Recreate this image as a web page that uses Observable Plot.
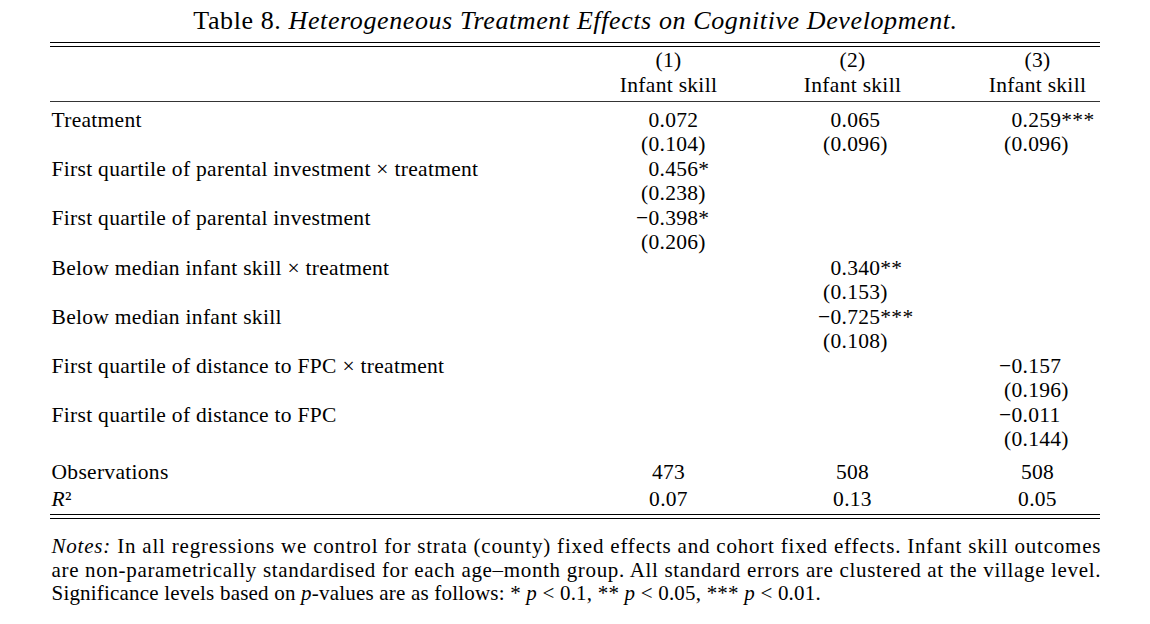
<!DOCTYPE html>
<html><head><meta charset="utf-8">
<script src="https://cdn.jsdelivr.net/npm/d3@7"></script>
<script src="https://cdn.jsdelivr.net/npm/@observablehq/plot@0.6"></script>
<style>body{margin:0;background:#fff}</style>
</head><body><div id="c"></div>
<script>
const rowLabels = ["Treatment","First quartile of parental investment × treatment","First quartile of parental investment","Below median infant skill × treatment","Below median infant skill","First quartile of distance to FPC × treatment","First quartile of distance to FPC"];
const coefs = [["0.072","0.065","0.259***"],["0.456*","",""],["−0.398*","",""],["","0.340**",""],["","−0.725***",""],["","","−0.157"],["","","−0.011"]];
const ses = [["(0.104)","(0.096)","(0.096)"],["(0.238)","",""],["(0.206)","",""],["","(0.153)",""],["","(0.108)",""],["","","(0.196)"],["","","(0.144)"]];
const colNums = ["(1)","(2)","(3)"];
const colNames = ["Infant skill","Infant skill","Infant skill"];
const observations = ["473","508","508"];
const r2 = ["0.07","0.13","0.05"];
const title = "Table 8. |Heterogeneous Treatment Effects on Cognitive Development.";
const notes = ["|Notes:| In all regressions we control for strata (county) fixed effects and cohort fixed effects. Infant skill outcomes",
"are non-parametrically standardised for each age–month group. All standard errors are clustered at the village level.",
"Significance levels based on |p|-values are as follows: * |p| < 0.1, ** |p| < 0.05, *** |p| < 0.01."];

const colCenter = [668, 852, 1037];
const colDec = [659, 841, 1022];
const rowY = [120,169,218,268,317,366,415];
const F = "Liberation Serif, Times New Roman, serif";

const cells = [];
coefs.forEach((r,i)=>r.forEach((v,j)=>{ if(v){ const k=v.indexOf("."); cells.push({x:colDec[j], y:rowY[i], a:v.slice(0,k), b:v.slice(k)}); }}));
ses.forEach((r,i)=>r.forEach((v,j)=>{ if(v){ const k=v.indexOf("."); cells.push({x:colDec[j], y:rowY[i]+24, a:v.slice(0,k), b:v.slice(k)}); }}));
const heads = [];
colNums.forEach((v,j)=>heads.push({x:colCenter[j],y:60,t:v}));
colNames.forEach((v,j)=>heads.push({x:colCenter[j],y:85,t:v}));
observations.forEach((v,j)=>heads.push({x:colCenter[j],y:472,t:v}));
r2.forEach((v,j)=>heads.push({x:colCenter[j],y:499,t:v}));
const labels = rowLabels.map((t,i)=>({x:51,y:rowY[i],t}));
labels.push({x:51,y:472,t:"Observations"},{x:51,y:499,t:"|R|²"});
const rules = [{y:42,w:1.2},{y:46,w:1.2},{y:101,w:0.8},{y:514,w:1.2},{y:518,w:1.2}];
const noteData = notes.map((t,i)=>({x:51,y:546+i*23.5,t,i}));

const plot = Plot.plot({
  width:1150, height:624, margin:0,
  x:{domain:[0,1150], axis:null}, y:{domain:[0,624], range:[0,624], axis:null},
  style:{fontFamily:F, background:"#fff"},
  marks:[
    Plot.ruleY(rules,{y:"y",x1:50,x2:1100,strokeWidth:"w",stroke:"#000"}),
    Plot.text([{t:title}],{x:575,y:20,text:"t",fontSize:26,fill:"#000"}),
    Plot.text(heads,{x:"x",y:"y",text:"t",fontSize:21.5,fill:"#000"}),
    Plot.text(labels,{x:"x",y:"y",text:"t",fontSize:21.5,textAnchor:"start",fill:"#000"}),
    Plot.text(cells,{x:"x",y:"y",text:"a",fontSize:21.5,textAnchor:"end",fill:"#000"}),
    Plot.text(cells,{x:"x",y:"y",text:"b",fontSize:21.5,textAnchor:"start",fill:"#000"}),
    Plot.text(noteData,{x:"x",y:"y",text:"t",fontSize:21,textAnchor:"start",fill:"#000"})
  ]
});
const svg = d3.select(plot);
svg.selectAll("text").each(function(){
  const s=this.textContent; if(s.indexOf("|")<0) return;
  const parts=s.split("|"); const el=d3.select(this); el.text(null);
  parts.forEach((p,k)=>{ if(p) el.append("tspan").attr("font-style",k%2?"italic":"normal").text(p); });
});
svg.selectAll("text").each(function(){
  const s=this.textContent;
  const fs = parseFloat(this.getAttribute("font-size") || this.parentNode.getAttribute("font-size"));
  if(s.startsWith("Table 8")) this.setAttribute("letter-spacing","0.6");
  else if(s.startsWith("Notes:")||s.startsWith("are non")) { this.setAttribute("textLength","1049"); this.setAttribute("lengthAdjust","spacing"); }
  else if(s.startsWith("Significance")) this.setAttribute("letter-spacing","0.2");
  else this.setAttribute("letter-spacing","0.3");
});
document.getElementById("c").appendChild(plot);
</script></body></html>
